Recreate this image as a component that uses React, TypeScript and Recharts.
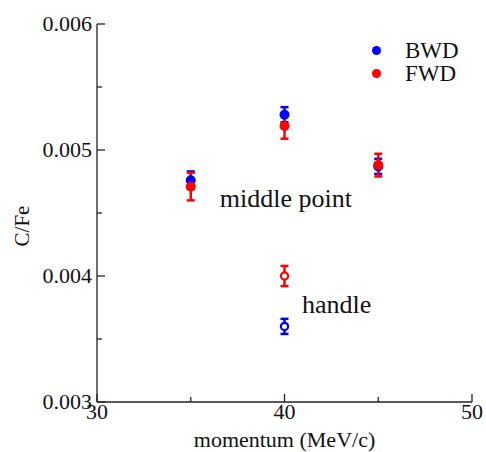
import React from 'react';
import { ScatterChart, Scatter, XAxis, YAxis, ErrorBar, ReferenceDot } from 'recharts';

// momentum points (MeV/c)
const momenta = [35, 40, 45];
const handleMomenta = [40];

// C/Fe ratio at the middle point
const bwdMiddle = [0.00476, 0.00528, 0.00487];
const bwdMiddleErr = [0.00007, 0.00006, 0.00006];
const fwdMiddle = [0.00471, 0.00519, 0.00488];
const fwdMiddleErr = [0.00011, 0.0001, 0.00009];

// C/Fe ratio at the handle
const bwdHandle = [0.0036];
const bwdHandleErr = [0.00006];
const fwdHandle = [0.004];
const fwdHandleErr = [0.00008];

const xTicks = [30, 35, 40, 45, 50];
const yTicks = [0.003, 0.0035, 0.004, 0.0045, 0.005, 0.0055, 0.006];

const BLUE = '#0000ff';
const RED = '#ff0000';
const FONT = '"Liberation Serif", "Times New Roman", serif';
const AXIS = '#222';
const textStyle = { fontFamily: FONT };

const toPoints = (xs: number[], ys: number[], errs: number[]) =>
  xs.map((x, i) => ({ x, y: ys[i], err: errs[i] }));

const isMajorX = (v: number) => v % 10 === 0;
const isMajorY = (v: number) => Math.abs(v * 1000 - Math.round(v * 1000)) < 1e-6;

const BottomTick = (props: any) => {
  const { x, y, payload } = props;
  const major = isMajorX(payload.value);
  return (
    <g>
      <line x1={x} x2={x} y1={y} y2={y - (major ? 8 : 5)} stroke={AXIS} strokeWidth={1.3} />
      {major && (
        <text x={x} y={y + 17} textAnchor="middle" fontSize={22} style={textStyle} fill="#111">
          {payload.value}
        </text>
      )}
    </g>
  );
};

const TopTick = (props: any) => {
  const { x, y, payload } = props;
  const len = isMajorX(payload.value) ? 8 : 5;
  return <line x1={x} x2={x} y1={y} y2={y + len} stroke={AXIS} strokeWidth={1.3} />;
};

const LeftTick = (props: any) => {
  const { x, y, payload } = props;
  const major = isMajorY(payload.value);
  return (
    <g>
      <line x1={x} x2={x + (major ? 8 : 5)} y1={y} y2={y} stroke={AXIS} strokeWidth={1.3} />
      {major && (
        <text x={x - 5} y={y} dy="0.33em" textAnchor="end" fontSize={22} style={textStyle} fill="#111">
          {payload.value.toFixed(3)}
        </text>
      )}
    </g>
  );
};

const RightTick = (props: any) => {
  const { x, y, payload } = props;
  const len = isMajorY(payload.value) ? 8 : 5;
  return <line x1={x} x2={x - len} y1={y} y2={y} stroke={AXIS} strokeWidth={1.3} />;
};

const filledDot = (color: string) => (props: any) =>
  <circle cx={props.cx} cy={props.cy} r={5} fill={color} />;

const openDot = (color: string) => (props: any) =>
  <circle cx={props.cx} cy={props.cy} r={3.6} fill="#fff" stroke={color} strokeWidth={2.2} />;

const note = (text: string) => (props: any) => (
  <text x={props.viewBox.x} y={props.viewBox.y} fontSize={26} style={textStyle} fill="#111">
    {text}
  </text>
);

const legendItems = [
  { name: 'BWD', color: BLUE },
  { name: 'FWD', color: RED },
];

export default function App() {
  return (
    <div style={{ position: 'absolute', left: 0, top: 0, width: 486, height: 452, background: '#fff', fontFamily: FONT }}>
      <ScatterChart width={486} height={452} margin={{ top: 24, right: 14, bottom: 0, left: 0 }} style={textStyle}>
        <XAxis
          type="number"
          dataKey="x"
          domain={[30, 50]}
          ticks={xTicks}
          interval={0}
          height={50}
          tickSize={0}
          tickMargin={0}
          tick={<BottomTick />}
          axisLine={{ stroke: AXIS, strokeWidth: 1.3 }}
          allowDataOverflow
          label={(p: any) => (
            <text
              x={p.viewBox.x + p.viewBox.width / 2}
              y={p.viewBox.y + 45}
              textAnchor="middle"
              fontSize={22}
              style={textStyle}
              fill="#111"
            >
              momentum (MeV/c)
            </text>
          )}
        />
        <XAxis
          xAxisId="top"
          orientation="top"
          type="number"
          dataKey="x"
          domain={[30, 50]}
          ticks={xTicks}
          interval={0}
          height={0}
          tickSize={0}
          tickMargin={0}
          tick={<TopTick />}
          axisLine={{ stroke: AXIS, strokeWidth: 1.3 }}
        />
        <YAxis
          type="number"
          dataKey="y"
          domain={[0.003, 0.006]}
          ticks={yTicks}
          interval={0}
          width={97}
          tickSize={0}
          tickMargin={0}
          tick={<LeftTick />}
          axisLine={{ stroke: AXIS, strokeWidth: 1.3 }}
          allowDataOverflow
          label={() => (
            <text
              x={22}
              y={226}
              textAnchor="middle"
              dy="0.35em"
              fontSize={21}
              style={textStyle}
              fill="#111"
              transform="rotate(-90 22 226)"
            >
              C/Fe
            </text>
          )}
        />
        <YAxis
          yAxisId="right"
          orientation="right"
          type="number"
          dataKey="y"
          domain={[0.003, 0.006]}
          ticks={yTicks}
          interval={0}
          width={0}
          tickSize={0}
          tickMargin={0}
          tick={<RightTick />}
          axisLine={{ stroke: AXIS, strokeWidth: 1.3 }}
        />

        <Scatter
          name="BWD"
          data={toPoints(momenta, bwdMiddle, bwdMiddleErr)}
          shape={filledDot(BLUE)}
          isAnimationActive={false}
        >
          <ErrorBar dataKey="err" direction="y" width={4} stroke={BLUE} strokeWidth={2.5} />
        </Scatter>
        <Scatter
          name="BWD handle"
          data={toPoints(handleMomenta, bwdHandle, bwdHandleErr)}
          shape={openDot(BLUE)}
          isAnimationActive={false}
        >
          <ErrorBar dataKey="err" direction="y" width={4} stroke={BLUE} strokeWidth={2.5} />
        </Scatter>
        <Scatter
          name="FWD"
          data={toPoints(momenta, fwdMiddle, fwdMiddleErr)}
          shape={filledDot(RED)}
          isAnimationActive={false}
        >
          <ErrorBar dataKey="err" direction="y" width={4} stroke={RED} strokeWidth={2.5} />
        </Scatter>
        <Scatter
          name="FWD handle"
          data={toPoints(handleMomenta, fwdHandle, fwdHandleErr)}
          shape={openDot(RED)}
          isAnimationActive={false}
        >
          <ErrorBar dataKey="err" direction="y" width={4} stroke={RED} strokeWidth={2.5} />
        </Scatter>

        <ReferenceDot x={36.55} y={0.00455} r={0} fill="none" stroke="none" label={note('middle point')} />
        <ReferenceDot x={40.93} y={0.00371} r={0} fill="none" stroke="none" label={note('handle')} />
      </ScatterChart>

      <div style={{ position: 'absolute', left: 370, top: 39 }}>
        {legendItems.map((item) => (
          <div key={item.name} style={{ display: 'flex', alignItems: 'center', height: 23 }}>
            <span
              style={{
                display: 'inline-block',
                width: 9,
                height: 9,
                borderRadius: '50%',
                background: item.color,
                marginLeft: 2,
                marginRight: 24,
              }}
            />
            <span style={{ fontSize: 23, lineHeight: '23px', color: '#111' }}>{item.name}</span>
          </div>
        ))}
      </div>
    </div>
  );
}
